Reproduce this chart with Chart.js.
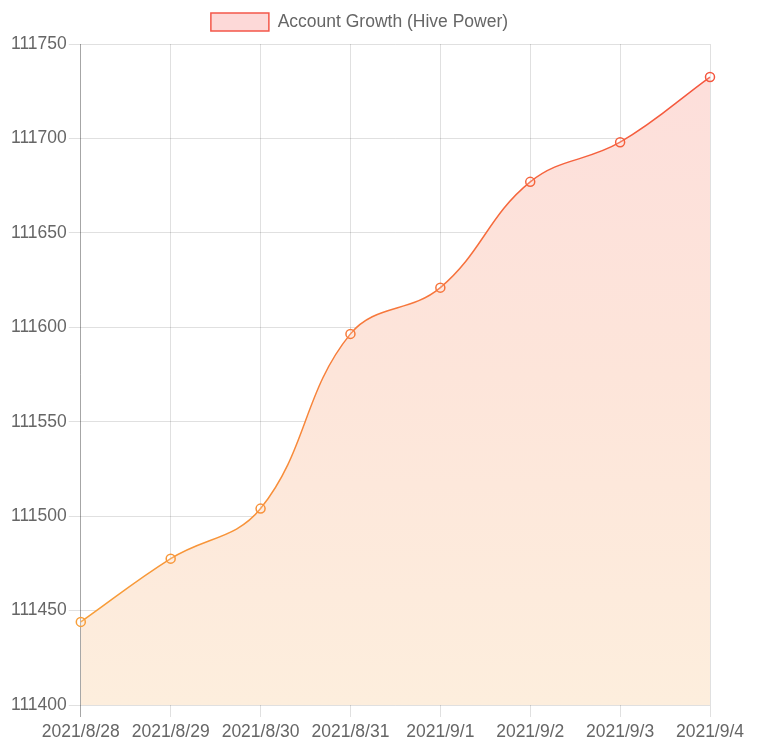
<!DOCTYPE html>
<html>
<head>
<meta charset="utf-8">
<script src="https://cdn.jsdelivr.net/npm/chart.js@4/dist/chart.umd.min.js"></script>
<style>
  html, body { margin: 0; padding: 0; background: #fff; }
  .chart-box { width: 768px; height: 750px; }
</style>
</head>
<body>
<div class="chart-box"><canvas id="growth-chart"></canvas></div>
<script>
const dates = ['2021/8/28', '2021/8/29', '2021/8/30', '2021/8/31', '2021/9/1', '2021/9/2', '2021/9/3', '2021/9/4'];
const hivePower = [111444, 111477.5, 111504, 111596.5, 111621, 111677, 111698, 111732.5];
const yTicks = [111400, 111450, 111500, 111550, 111600, 111650, 111700, 111750];

const FONT = "'Liberation Sans', Helvetica, Arial, sans-serif";

// vertical gradient helpers, built from the chart area
function lineGradient(ctx) {
    const area = ctx.chart.chartArea;
    if (!area) return '#f7a035';
    const g = ctx.chart.ctx.createLinearGradient(0, area.bottom, 0, area.top);
    g.addColorStop(0, '#f8a838');
    g.addColorStop(0.5, '#f7813b');
    g.addColorStop(1, '#f4513f');
    return g;
}
function fillGradient(ctx) {
    const area = ctx.chart.chartArea;
    if (!area) return 'rgba(253,230,220,1)';
    const g = ctx.chart.ctx.createLinearGradient(0, area.bottom, 0, area.top);
    g.addColorStop(0, '#fdeedd');
    g.addColorStop(0.5, '#fde5da');
    g.addColorStop(1, '#fddedb');
    return g;
}

// a little extra room under the legend
const legendGap = {
    id: 'legendGap',
    beforeInit(chart) {
        const fit = chart.legend.fit;
        chart.legend.fit = function () {
            fit.call(this);
            this.height += 3;
        };
    }
};

new Chart(document.getElementById('growth-chart'), {
    type: 'line',
    data: {
        labels: dates,
        datasets: [{
            label: 'Account Growth (Hive Power)',
            data: hivePower,
            borderColor: lineGradient,
            backgroundColor: fillGradient,
            pointBorderColor: lineGradient,
            pointBackgroundColor: 'rgba(255,255,255,0.15)',
            pointRadius: 4.5,
            pointBorderWidth: 1.5,
            borderWidth: 1.5,
            tension: 0.4,
            fill: true
        }]
    },
    options: {
        responsive: true,
        maintainAspectRatio: false,
        animation: false,
        layout: { padding: { left: 9, right: 58, top: 0, bottom: 2 } },
        plugins: {
            legend: {
                labels: {
                    font: { family: FONT, size: 17.5 },
                    color: '#666',
                    boxWidth: 58,
                    boxHeight: 18,
                    padding: 13,
                    generateLabels: () => [{
                        text: 'Account Growth (Hive Power)',
                        fillStyle: '#fdd9d8',
                        strokeStyle: '#f4574a',
                        fontColor: '#666',
                        lineWidth: 1.5,
                        datasetIndex: 0
                    }]
                }
            },
            tooltip: { enabled: false }
        },
        scales: {
            x: {
                grid: {
                    color: (c) => c.index === 0 ? 'rgba(0,0,0,0.35)' : 'rgba(0,0,0,0.12)',
                    tickLength: 12,
                    lineWidth: 1
                },
                border: { display: false },
                ticks: {
                    font: { family: FONT, size: 17.5 },
                    color: '#666',
                    maxRotation: 0,
                    autoSkip: false,
                    padding: 5
                }
            },
            y: {
                min: 111400,
                max: 111750,
                afterBuildTicks: (axis) => { axis.ticks = yTicks.map(v => ({ value: v })); },
                grid: {
                    color: 'rgba(0,0,0,0.12)',
                    tickLength: 12
                },
                border: { display: false },
                ticks: {
                    font: { family: FONT, size: 17.5 },
                    color: '#666',
                    padding: 2,
                    callback: (v) => String(v)
                }
            }
        }
    },
    plugins: [legendGap]
});
</script>
</body>
</html>
